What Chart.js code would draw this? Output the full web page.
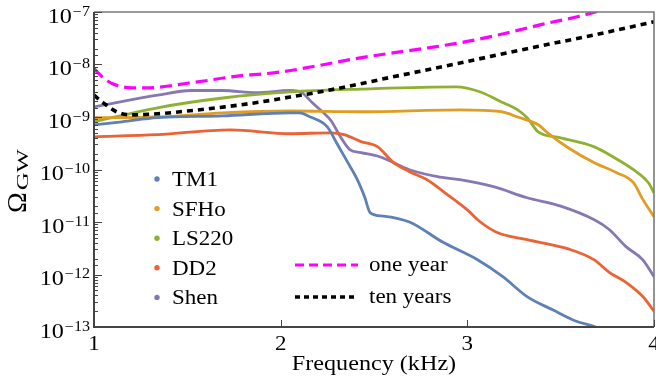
<!DOCTYPE html>
<html lang="en">
<head>
  <meta charset="UTF-8">
  <title>Omega GW vs frequency</title>
  <script src="https://cdn.jsdelivr.net/npm/chart.js"></script>
  <style>
    html, body { margin: 0; padding: 0; background: #fff; }
  </style>
</head>
<body>
  <canvas id="gwChart" width="656" height="381"></canvas>

  <script>
    // frequency (kHz) and Omega_GW
    const tm1Freq  = [1.0, 1.15, 1.34, 1.69, 2.05, 2.1, 2.16, 2.25, 2.3, 2.36, 2.41, 2.45, 2.48, 2.55, 2.69, 2.87, 3.05, 3.19, 3.32, 3.46, 3.58, 3.68, 3.72];
    const tm1Omega = [7.1e-10, 8.1e-10, 9.7e-10, 1.05e-9, 1.2e-9, 1.2e-9, 1.0e-9, 6.5e-10, 3.2e-10, 1.35e-10, 6.5e-11, 3.0e-11, 1.5e-11, 1.3e-11, 1.0e-11, 4.1e-12, 1.95e-12, 9.1e-13, 3.8e-13, 2.1e-13, 1.3e-13, 1.02e-13, 9e-14];

    const sfhoFreq  = [1.0, 1.34, 1.69, 2.05, 2.43, 2.96, 3.18, 3.27, 3.38, 3.43, 3.54, 3.68, 3.8, 3.89, 3.94, 4.0];
    const sfhoOmega = [9.7e-10, 1.0e-9, 1.2e-9, 1.3e-9, 1.26e-9, 1.37e-9, 1.26e-9, 1.0e-9, 7.1e-10, 5.0e-10, 2.6e-10, 1.35e-10, 8.7e-11, 5.6e-11, 2.7e-11, 1.26e-11];

    const ls220Freq  = [1.0, 1.34, 1.69, 2.05, 2.43, 2.94, 3.07, 3.18, 3.27, 3.32, 3.38, 3.5, 3.68, 3.78, 3.89, 3.97, 4.0];
    const ls220Omega = [8.1e-10, 1.5e-9, 2.3e-9, 3.0e-9, 3.4e-9, 3.75e-9, 3.0e-9, 1.95e-9, 1.37e-9, 9.7e-10, 5.2e-10, 4.0e-10, 2.7e-10, 1.75e-10, 9.9e-11, 5.6e-11, 3.6e-11];

    const dd2Freq  = [1.0, 1.34, 1.73, 2.05, 2.27, 2.34, 2.43, 2.52, 2.6, 2.69, 2.78, 2.88, 3.0, 3.07, 3.16, 3.32, 3.55, 3.68, 3.76, 3.85, 3.94, 4.0];
    const dd2Omega = [4.2e-10, 4.6e-10, 5.7e-10, 4.8e-10, 5.0e-10, 4.6e-10, 3.4e-10, 2.7e-10, 1.4e-10, 9.1e-11, 6.5e-11, 3.6e-11, 1.7e-11, 1.0e-11, 6.3e-12, 4.6e-12, 3.0e-12, 1.9e-12, 1.1e-12, 7.1e-13, 3.8e-13, 2.0e-13];

    const shenFreq  = [1.0, 1.34, 1.52, 1.69, 1.87, 2.05, 2.11, 2.14, 2.17, 2.23, 2.27, 2.32, 2.37, 2.43, 2.53, 2.69, 2.84, 2.96, 3.14, 3.32, 3.5, 3.68, 3.76, 3.85, 3.94, 4.0];
    const shenOmega = [1.56e-9, 2.6e-9, 3.2e-9, 3.2e-9, 2.9e-9, 3.2e-9, 3.0e-9, 2.4e-9, 1.86e-9, 1.2e-9, 8.5e-10, 4.2e-10, 2.4e-10, 2.1e-10, 1.75e-10, 9.9e-11, 7.3e-11, 6.4e-11, 4.7e-11, 2.9e-11, 2.0e-11, 1.1e-11, 7.2e-12, 3.4e-12, 1.9e-12, 9.1e-13];

    // detector sensitivity curves
    const oneYearFreq  = [1.0, 1.05, 1.1, 1.2, 1.3, 1.4, 1.5, 1.6, 1.7, 1.8, 1.9, 2.0, 2.2, 2.4, 2.6, 2.8, 3.0, 3.2, 3.4, 3.6, 3.8];
    const oneYearOmega = [8.3e-9, 5.6e-9, 4.3e-9, 3.6e-9, 3.6e-9, 3.9e-9, 4.4e-9, 4.9e-9, 5.6e-9, 6.2e-9, 6.6e-9, 7.2e-9, 9.5e-9, 1.29e-8, 1.66e-8, 2.1e-8, 2.75e-8, 3.9e-8, 5.8e-8, 8.3e-8, 1.3e-7];

    const tenYearFreq  = [1.0, 1.05, 1.12, 1.2, 1.34, 1.5, 1.7, 1.9, 2.05, 2.25, 2.6, 2.96, 3.32, 3.68, 4.0];
    const tenYearOmega = [2.6e-9, 1.86e-9, 1.26e-9, 1.1e-9, 1.15e-9, 1.3e-9, 1.56e-9, 1.95e-9, 2.4e-9, 3.2e-9, 5.8e-9, 1.07e-8, 2.0e-8, 3.66e-8, 6.5e-8];

    const freqTicks = [1, 2, 3, 4];
    const decadeTicks = [-7, -8, -9, -10, -11, -12, -13];

    const serif = '"Liberation Serif", "DejaVu Serif", serif';
    const stretch = 1.15; // the original text is set a bit wide

    function pairs(xs, ys) {
      return xs.map((x, i) => ({ x: x, y: ys[i] }));
    }

    // draw text widened horizontally, anchored at (x, y)
    function wideText(ctx, text, x, y, size, align) {
      ctx.save();
      ctx.font = size + 'px ' + serif;
      const w = ctx.measureText(text).width * stretch;
      let left = x;
      if (align === 'right') left = x - w;
      if (align === 'center') left = x - w / 2;
      ctx.translate(left, y);
      ctx.scale(stretch, 1);
      ctx.textAlign = 'left';
      ctx.fillText(text, 0, 0);
      ctx.restore();
      return w;
    }

    const eosSeries = [
      { label: 'TM1',   color: '#5E81B5', data: pairs(tm1Freq, tm1Omega) },
      { label: 'SFHo',  color: '#E19C24', data: pairs(sfhoFreq, sfhoOmega) },
      { label: 'LS220', color: '#8FB032', data: pairs(ls220Freq, ls220Omega) },
      { label: 'DD2',   color: '#EB6235', data: pairs(dd2Freq, dd2Omega) },
      { label: 'Shen',  color: '#8778B3', data: pairs(shenFreq, shenOmega) }
    ];

    const datasets = [
      {
        label: 'one year', data: pairs(oneYearFreq, oneYearOmega),
        borderColor: '#ff00ff', borderWidth: 3.2, borderDash: [12, 6],
        pointRadius: 0, showLine: true, cubicInterpolationMode: 'monotone', order: 0
      },
      {
        label: 'ten years', data: pairs(tenYearFreq, tenYearOmega),
        borderColor: '#000000', borderWidth: 3.6, borderDash: [6, 5],
        pointRadius: 0, showLine: true, cubicInterpolationMode: 'monotone', order: 1
      }
    ];
    eosSeries.forEach((s, i) => {
      datasets.push({
        label: s.label, data: s.data,
        borderColor: s.color, backgroundColor: s.color,
        borderWidth: 2.8, pointRadius: 0, showLine: true,
        cubicInterpolationMode: 'monotone', order: 2 + i
      });
    });

    // frame, inward ticks, tick labels, axis titles and legend
    const decorations = {
      id: 'decorations',
      afterDraw(chart) {
        const ctx = chart.ctx;
        const area = chart.chartArea;
        const xs = chart.scales.x;
        const ys = chart.scales.y;
        ctx.save();

        // frame
        ctx.strokeStyle = '#7a7a7a';
        ctx.lineWidth = 1.6;
        ctx.beginPath();
        ctx.moveTo(area.left, area.top);
        ctx.lineTo(area.right, area.top);
        ctx.lineTo(area.right, area.bottom);
        ctx.stroke();
        ctx.strokeStyle = '#444';
        ctx.lineWidth = 2;
        ctx.beginPath();
        ctx.moveTo(area.left, area.top);
        ctx.lineTo(area.left, area.bottom);
        ctx.lineTo(area.right, area.bottom);
        ctx.stroke();

        // ticks pointing inward
        ctx.lineWidth = 1;
        ctx.beginPath();
        ys.ticks.forEach(t => {
          const lg = Math.log10(t.value);
          const major = Math.abs(lg - Math.round(lg)) < 1e-6;
          const py = Math.round(ys.getPixelForValue(t.value)) + 0.5;
          ctx.moveTo(area.left, py);
          ctx.lineTo(area.left + (major ? 8 : 4), py);
        });
        freqTicks.forEach(v => {
          const px = Math.round(xs.getPixelForValue(v)) + 0.5;
          ctx.moveTo(px, area.bottom);
          ctx.lineTo(px, area.bottom - 7);
        });
        ctx.stroke();

        ctx.fillStyle = '#000';
        ctx.textBaseline = 'alphabetic';

        // y tick labels 10^-n
        decadeTicks.forEach(d => {
          const py = ys.getPixelForValue(Math.pow(10, d));
          const right = area.left - 4;
          const ew = wideText(ctx, '\u2212' + Math.abs(d), right, py + 3.5, 14, 'right');
          wideText(ctx, '10', right - ew - 1, py + 10.5, 21, 'right');
        });

        // x tick labels
        freqTicks.forEach(v => {
          wideText(ctx, String(v), xs.getPixelForValue(v), 350, 20, 'center');
        });

        // x axis title
        wideText(ctx, 'Frequency (kHz)', (area.left + area.right) / 2, 370, 21, 'center');

        // y axis title, rotated
        ctx.save();
        ctx.translate(26, 213);
        ctx.rotate(-Math.PI / 2);
        ctx.font = '28px ' + serif;
        ctx.textAlign = 'left';
        ctx.fillText('\u03A9', 0, 0);
        const ow = ctx.measureText('\u03A9').width;
        ctx.translate(ow + 2, 2);
        ctx.scale(1.45, 1);
        ctx.font = '17px ' + serif;
        ctx.fillText('GW', 0, 0);
        ctx.restore();

        // legend: markers
        eosSeries.forEach((s, i) => {
          const cy = 179 + i * 29.6;
          ctx.fillStyle = s.color;
          ctx.beginPath();
          ctx.arc(157, cy, 2.7, 0, Math.PI * 2);
          ctx.fill();
          ctx.fillStyle = '#000';
          wideText(ctx, s.label, 172, cy + 7, 20, 'left');
        });

        // legend: sensitivity curves
        const lineItems = [
          { label: 'one year', color: '#ff00ff', dash: [9, 5], width: 3, y: 265 },
          { label: 'ten years', color: '#000', dash: [5, 4], width: 3.4, y: 297 }
        ];
        lineItems.forEach(it => {
          ctx.strokeStyle = it.color;
          ctx.lineWidth = it.width;
          ctx.setLineDash(it.dash);
          ctx.beginPath();
          ctx.moveTo(295, it.y);
          ctx.lineTo(358, it.y);
          ctx.stroke();
          ctx.setLineDash([]);
          ctx.fillStyle = '#000';
          wideText(ctx, it.label, 369, it.y + 6, 20, 'left');
        });

        ctx.restore();
      }
    };

    const ctx = document.getElementById('gwChart').getContext('2d');
    const gwChart = new Chart(ctx, {
      type: 'scatter',
      data: { datasets: datasets },
      options: {
        responsive: false,
        animation: false,
        layout: { padding: { top: 12, right: 2, left: 0, bottom: 0 } },
        plugins: {
          legend: { display: false },
          tooltip: { enabled: false }
        },
        scales: {
          x: {
            type: 'linear',
            min: 1,
            max: 4,
            afterFit: s => { s.height = 54; },
            afterBuildTicks: s => { s.ticks = freqTicks.map(v => ({ value: v })); },
            grid: { display: false, drawTicks: false },
            border: { display: false },
            ticks: { display: false }
          },
          y: {
            type: 'logarithmic',
            min: 1e-13,
            max: 1e-7,
            afterFit: s => { s.width = 94; },
            grid: { display: false, drawTicks: false },
            border: { display: false },
            ticks: { display: false }
          }
        }
      },
      plugins: [decorations]
    });
  </script>
</body>
</html>
